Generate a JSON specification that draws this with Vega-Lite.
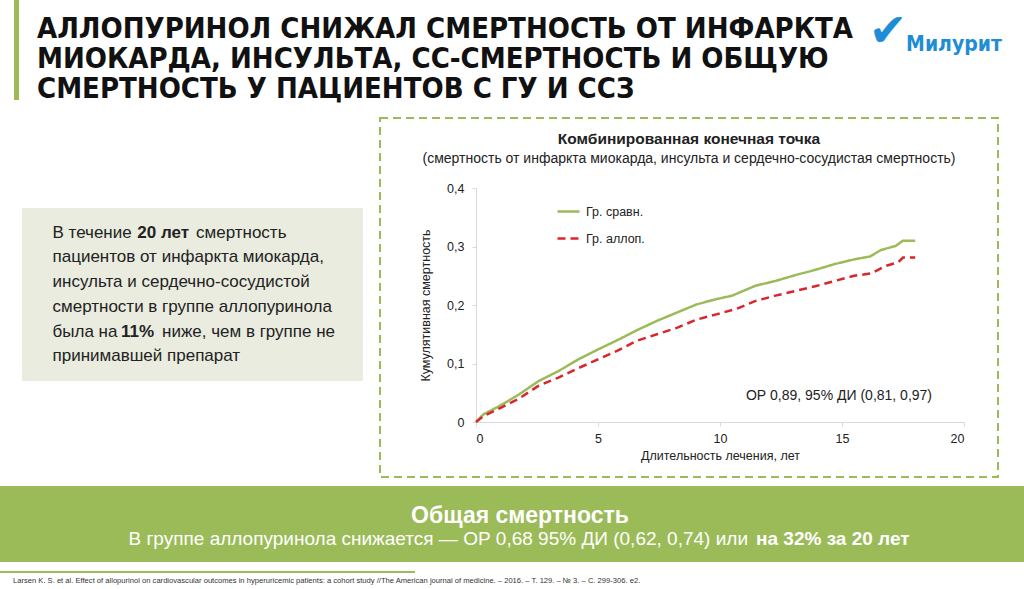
{
  "$schema": "https://vega.github.io/schema/vega-lite/v6.json",
  "padding": 0,
  "background": "white",
  "spacing": 0,
  "bounds": "full",
  "config": {
    "view": {"stroke": null},
    "font": "Liberation Sans",
    "axis": {"grid": false},
    "concat": {"spacing": 0}
  },
  "datasets": {
    "titleLines": [
      {"i": 1, "text": "АЛЛОПУРИНОЛ СНИЖАЛ СМЕРТНОСТЬ ОТ ИНФАРКТА"},
      {"i": 2, "text": "МИОКАРДА, ИНСУЛЬТА, СС-СМЕРТНОСТЬ И ОБЩУЮ"},
      {"i": 3, "text": "СМЕРТНОСТЬ У ПАЦИЕНТОВ С ГУ И ССЗ"}
    ],
    "para": [
      {"line": 1, "seg": 1, "text": "В течение"},
      {"line": 1, "seg": 2, "text": "20 лет"},
      {"line": 1, "seg": 3, "text": "смертность"},
      {"line": 2, "seg": 1, "text": "пациентов от инфаркта миокарда,"},
      {"line": 3, "seg": 1, "text": "инсульта и сердечно-сосудистой"},
      {"line": 4, "seg": 1, "text": "смертности в группе аллопуринола"},
      {"line": 5, "seg": 1, "text": "была на"},
      {"line": 5, "seg": 2, "text": "11%"},
      {"line": 5, "seg": 3, "text": "ниже, чем в группе не"},
      {"line": 6, "seg": 1, "text": "принимавшей препарат"}
    ],
    "curves": [
      {"group": "Гр. сравн.", "t": 0, "v": 0},
      {"group": "Гр. сравн.", "t": 0.3, "v": 0.013},
      {"group": "Гр. сравн.", "t": 0.95, "v": 0.027},
      {"group": "Гр. сравн.", "t": 1.76, "v": 0.047},
      {"group": "Гр. сравн.", "t": 2.57, "v": 0.07},
      {"group": "Гр. сравн.", "t": 3.38, "v": 0.087},
      {"group": "Гр. сравн.", "t": 4.19, "v": 0.107},
      {"group": "Гр. сравн.", "t": 5.0, "v": 0.124},
      {"group": "Гр. сравн.", "t": 5.8, "v": 0.14},
      {"group": "Гр. сравн.", "t": 6.6, "v": 0.157},
      {"group": "Гр. сравн.", "t": 7.42, "v": 0.173},
      {"group": "Гр. сравн.", "t": 8.23, "v": 0.187},
      {"group": "Гр. сравн.", "t": 9.04, "v": 0.201},
      {"group": "Гр. сравн.", "t": 9.85, "v": 0.21},
      {"group": "Гр. сравн.", "t": 10.5, "v": 0.216},
      {"group": "Гр. сравн.", "t": 11.46, "v": 0.233},
      {"group": "Гр. сравн.", "t": 12.27, "v": 0.241},
      {"group": "Гр. сравн.", "t": 13.08, "v": 0.251},
      {"group": "Гр. сравн.", "t": 13.9, "v": 0.26},
      {"group": "Гр. сравн.", "t": 14.7, "v": 0.27},
      {"group": "Гр. сравн.", "t": 15.5, "v": 0.278},
      {"group": "Гр. сравн.", "t": 16.15, "v": 0.283},
      {"group": "Гр. сравн.", "t": 16.6, "v": 0.294},
      {"group": "Гр. сравн.", "t": 17.2, "v": 0.301},
      {"group": "Гр. сравн.", "t": 17.5, "v": 0.31},
      {"group": "Гр. сравн.", "t": 18.0, "v": 0.31},
      {"group": "Гр. аллоп.", "t": 0, "v": 0},
      {"group": "Гр. аллоп.", "t": 0.3, "v": 0.01},
      {"group": "Гр. аллоп.", "t": 0.95, "v": 0.023},
      {"group": "Гр. аллоп.", "t": 1.76, "v": 0.04},
      {"group": "Гр. аллоп.", "t": 2.57, "v": 0.062},
      {"group": "Гр. аллоп.", "t": 3.38, "v": 0.076},
      {"group": "Гр. аллоп.", "t": 4.19, "v": 0.092},
      {"group": "Гр. аллоп.", "t": 5.0, "v": 0.107},
      {"group": "Гр. аллоп.", "t": 5.8, "v": 0.122},
      {"group": "Гр. аллоп.", "t": 6.6, "v": 0.139},
      {"group": "Гр. аллоп.", "t": 7.42, "v": 0.15},
      {"group": "Гр. аллоп.", "t": 8.23, "v": 0.161},
      {"group": "Гр. аллоп.", "t": 9.04, "v": 0.175},
      {"group": "Гр. аллоп.", "t": 9.85, "v": 0.184},
      {"group": "Гр. аллоп.", "t": 10.65, "v": 0.193},
      {"group": "Гр. аллоп.", "t": 11.46, "v": 0.207},
      {"group": "Гр. аллоп.", "t": 12.27, "v": 0.216},
      {"group": "Гр. аллоп.", "t": 13.08, "v": 0.224},
      {"group": "Гр. аллоп.", "t": 13.9, "v": 0.232},
      {"group": "Гр. аллоп.", "t": 14.7, "v": 0.241},
      {"group": "Гр. аллоп.", "t": 15.5, "v": 0.25},
      {"group": "Гр. аллоп.", "t": 16.2, "v": 0.254},
      {"group": "Гр. аллоп.", "t": 16.8, "v": 0.267},
      {"group": "Гр. аллоп.", "t": 17.3, "v": 0.273},
      {"group": "Гр. аллоп.", "t": 17.5, "v": 0.281},
      {"group": "Гр. аллоп.", "t": 18.0, "v": 0.281}
    ]
  },
  "vconcat": [
    {
      "bounds": "flush",
      "spacing": 0,
      "hconcat": [
        {"width": 14, "height": 100, "data": {"values": []}, "mark": {"type": "point", "opacity": 0}},
        {"width": 5, "height": 100, "view": {"fill": "#9bbb59", "stroke": null}, "data": {"values": []}, "mark": {"type": "point", "opacity": 0}},
        {
          "width": 1005,
          "height": 117,
          "encoding": {
            "x": {"datum": 0, "type": "quantitative", "scale": {"domain": [0, 1]}, "axis": null}
          },
          "layer": [
            {
              "data": {"name": "titleLines"},
              "mark": {"type": "text", "align": "left", "baseline": "middle", "dx": 18, "dy": 0.5, "font": "DejaVu Sans Condensed", "fontWeight": "bold", "fontSize": 29, "color": "#111111"},
              "encoding": {
                "y": {"field": "i", "type": "ordinal", "scale": {"type": "point", "padding": 0.95}, "axis": null},
                "text": {"field": "text"}
              }
            },
            {
              "data": {"values": [{"logo": "Милурит"}]},
              "mark": {"type": "text", "align": "right", "baseline": "middle", "dx": -22, "dy": -13.5, "font": "DejaVu Sans Condensed", "fontWeight": "bold", "fontSize": 21, "color": "#1f8dd6"},
              "encoding": {"x": {"datum": 1, "type": "quantitative"}, "text": {"field": "logo"}}
            },
            {
              "data": {"values": [{"mark": "✔"}]},
              "mark": {"type": "text", "align": "center", "baseline": "middle", "dx": -136, "dy": -27, "font": "DejaVu Sans", "fontSize": 46, "color": "#1f8dd6"},
              "encoding": {"x": {"datum": 1, "type": "quantitative"}, "text": {"field": "mark"}}
            }
          ]
        }
      ]
    },
    {
      "bounds": "full",
      "spacing": 0,
      "hconcat": [
        {"width": 22, "height": 359, "data": {"values": []}, "mark": {"type": "point", "opacity": 0}},
        {
          "bounds": "flush",
          "spacing": 0,
          "vconcat": [
            {"width": 341, "height": 90, "data": {"values": []}, "mark": {"type": "point", "opacity": 0}},
            {
              "width": 341,
              "height": 173,
              "view": {"fill": "#e9ecdf", "stroke": null},
              "data": {"name": "para"},
              "encoding": {
                "x": {"datum": 0, "type": "quantitative", "scale": {"domain": [0, 1]}, "axis": null},
                "y": {"field": "line", "type": "ordinal", "scale": {"type": "point", "padding": 1.58}, "axis": null},
                "text": {"field": "text"}
              },
              "layer": [
                {"transform": [{"filter": "datum.seg == 1"}], "mark": {"type": "text", "align": "left", "baseline": "middle", "dx": 30.5, "fontSize": 17, "color": "#222222"}},
                {"transform": [{"filter": "datum.line == 1 && datum.seg == 2"}], "mark": {"type": "text", "align": "left", "baseline": "middle", "dx": 115.3, "fontSize": 17, "fontWeight": "bold", "color": "#222222"}},
                {"transform": [{"filter": "datum.line == 1 && datum.seg == 3"}], "mark": {"type": "text", "align": "left", "baseline": "middle", "dx": 174, "fontSize": 17, "color": "#222222"}},
                {"transform": [{"filter": "datum.line == 5 && datum.seg == 2"}], "mark": {"type": "text", "align": "left", "baseline": "middle", "dx": 99, "fontSize": 17, "fontWeight": "bold", "color": "#222222"}},
                {"transform": [{"filter": "datum.line == 5 && datum.seg == 3"}], "mark": {"type": "text", "align": "left", "baseline": "middle", "dx": 140, "fontSize": 17, "color": "#222222"}}
              ]
            }
          ]
        },
        {"width": 16, "height": 359, "data": {"values": []}, "mark": {"type": "point", "opacity": 0}},
        {
          "width": 618,
          "height": 359,
          "view": {"stroke": "#9bbb59", "strokeWidth": 2, "strokeDash": [8, 5]},
          "title": {
            "text": "Комбинированная конечная точка",
            "subtitle": "(смертность от инфаркта миокарда, инсульта и сердечно-сосудистая смертность)",
            "anchor": "middle",
            "frame": "group",
            "offset": -48,
            "font": "Liberation Sans",
            "fontSize": 15.5,
            "fontWeight": "bold",
            "color": "#222222",
            "subtitleFont": "Liberation Sans",
            "subtitleFontSize": 14,
            "subtitleColor": "#222222",
            "subtitlePadding": 5
          },
          "layer": [
            {
              "data": {"name": "curves"},
              "mark": {"type": "line", "strokeWidth": 2.5, "strokeCap": "butt"},
              "encoding": {
                "x": {
                  "field": "t",
                  "type": "quantitative",
                  "scale": {"domain": [0, 20], "range": [96, 584], "nice": false},
                  "axis": {
                    "values": [0, 5, 10, 15, 20],
                    "offset": -55,
                    "domainColor": "#d9d9d9",
                    "tickColor": "#d9d9d9",
                    "tickSize": 4,
                    "labelFont": "Liberation Sans",
                    "labelFontSize": 12.5,
                    "labelColor": "#222222",
                    "labelPadding": 6,
                    "title": "Длительность лечения, лет",
                    "titleFont": "Liberation Sans",
                    "titleFontSize": 12.5,
                    "titleFontWeight": "normal",
                    "titleColor": "#222222",
                    "titlePadding": 5
                  }
                },
                "y": {
                  "field": "v",
                  "type": "quantitative",
                  "scale": {"domain": [0, 0.4], "range": [304, 70], "nice": false},
                  "axis": {
                    "values": [0, 0.1, 0.2, 0.3, 0.4],
                    "offset": -96,
                    "labelExpr": "replace(format(datum.value, '.1~f'), '.', ',')",
                    "domainColor": "#d9d9d9",
                    "tickColor": "#d9d9d9",
                    "tickSize": 4,
                    "labelFont": "Liberation Sans",
                    "labelFontSize": 12.5,
                    "labelColor": "#222222",
                    "labelPadding": 8,
                    "title": "Кумулятивная смертность",
                    "titleFont": "Liberation Sans",
                    "titleFontSize": 12.5,
                    "titleFontWeight": "normal",
                    "titleColor": "#222222",
                    "titlePadding": 14
                  }
                },
                "color": {
                  "field": "group",
                  "type": "nominal",
                  "scale": {"domain": ["Гр. сравн.", "Гр. аллоп."], "range": ["#9bbb59", "#d9262c"]},
                  "legend": {"title": null, "orient": "none", "legendX": 556, "legendY": 199, "symbolType": "stroke", "symbolSize": 484, "symbolStrokeWidth": 2.5, "labelFont": "Liberation Sans", "labelFontSize": 12.5, "labelColor": "#222222", "labelOffset": 5, "rowPadding": 8}
                },
                "strokeDash": {
                  "field": "group",
                  "type": "nominal",
                  "scale": {"domain": ["Гр. сравн.", "Гр. аллоп."], "range": [[1, 0], [8, 5]]},
                  "legend": {"title": null, "orient": "none", "legendX": 556, "legendY": 199, "symbolType": "stroke", "symbolSize": 484, "symbolStrokeWidth": 2.5, "labelFont": "Liberation Sans", "labelFontSize": 12.5, "labelColor": "#222222", "labelOffset": 5, "rowPadding": 8}
                }
              }
            },
            {
              "data": {"values": [{"note": "ОР 0,89, 95% ДИ (0,81, 0,97)"}]},
              "mark": {"type": "text", "align": "right", "baseline": "middle", "fontSize": 14, "font": "Liberation Sans", "color": "#222222"},
              "encoding": {
                "x": {"datum": 18.69, "type": "quantitative"},
                "y": {"datum": 0.0444, "type": "quantitative"},
                "text": {"field": "note"}
              }
            }
          ]
        }
      ]
    },
    {"width": 1024, "height": 8, "data": {"values": []}, "mark": {"type": "point", "opacity": 0}},
    {
      "width": 1024,
      "height": 76,
      "view": {"fill": "#9bbb59", "stroke": null},
      "data": {"values": [
        {"part": "head", "text": "Общая смертность"},
        {"part": "plain", "text": "В группе аллопуринола снижается — ОР 0,68 95% ДИ (0,62, 0,74) или"},
        {"part": "bold", "text": "на 32% за 20 лет"}
      ]},
      "encoding": {"text": {"field": "text"}},
      "layer": [
        {"transform": [{"filter": "datum.part == 'head'"}], "mark": {"type": "text", "align": "center", "baseline": "middle", "dx": 8, "dy": -8, "fontSize": 23, "fontWeight": "bold", "color": "white"}},
        {"transform": [{"filter": "datum.part == 'plain'"}], "mark": {"type": "text", "align": "right", "baseline": "middle", "dx": 236, "dy": 15, "fontSize": 19, "color": "white"}},
        {"transform": [{"filter": "datum.part == 'bold'"}], "mark": {"type": "text", "align": "left", "baseline": "middle", "dx": 244, "dy": 15, "fontSize": 19, "fontWeight": "bold", "color": "white"}}
      ]
    },
    {"width": 1024, "height": 9, "data": {"values": []}, "mark": {"type": "point", "opacity": 0}},
    {"width": 415, "height": 2, "view": {"fill": "#9bbb59", "stroke": null}, "data": {"values": []}, "mark": {"type": "point", "opacity": 0}},
    {
      "width": 1024,
      "height": 16,
      "data": {"values": [{"ref": "Larsen K. S. et al. Effect of allopurinol on cardiovascular outcomes in hyperuricemic patients: a cohort study //The American journal of medicine. – 2016. – Т. 129. – № 3. – С. 299-306. е2."}]},
      "mark": {"type": "text", "align": "left", "baseline": "middle", "dx": 13, "fontSize": 7.6, "color": "#333333"},
      "encoding": {
        "x": {"datum": 0, "type": "quantitative", "scale": {"domain": [0, 1]}, "axis": null},
        "text": {"field": "ref"}
      }
    }
  ]
}
